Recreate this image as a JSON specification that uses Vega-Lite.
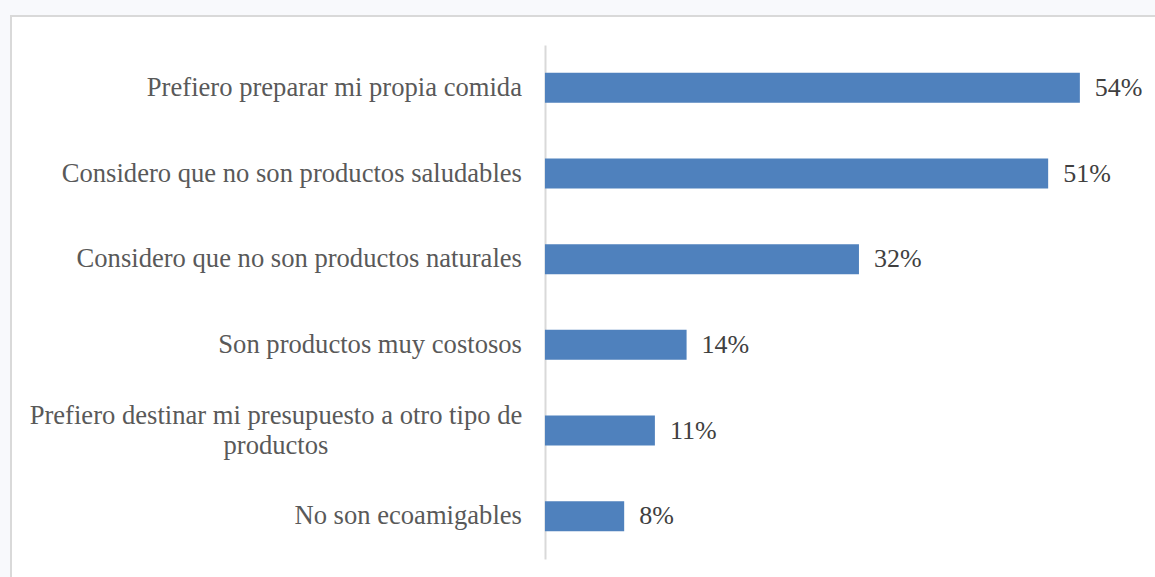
{
  "$schema": "https://vega.github.io/schema/vega-lite/v6.json",
  "width": 1160,
  "height": 570,
  "autosize": {"type": "none"},
  "padding": {"left": 11, "top": 16, "right": 0, "bottom": 0},
  "background": "#f8f9fc",
  "config": {"view": {"stroke": "#d9d9d9", "strokeWidth": 2, "fill": "white"}},
  "data": {
    "values": [
      {"cat": "Prefiero preparar mi propia comida", "pct": 54, "label": "54%", "multi": false},
      {"cat": "Considero que no son productos saludables", "pct": 50.8, "label": "51%", "multi": false},
      {"cat": "Considero que no son productos naturales", "pct": 31.7, "label": "32%", "multi": false},
      {"cat": "Son productos muy costosos", "pct": 14.3, "label": "14%", "multi": false},
      {"cat": "Prefiero destinar mi presupuesto a otro tipo de\nproductos", "pct": 11.1, "label": "11%", "multi": true},
      {"cat": "No son ecoamigables", "pct": 8, "label": "8%", "multi": false}
    ]
  },
  "encoding": {
    "y": {
      "field": "cat",
      "type": "nominal",
      "sort": null,
      "scale": {"range": [29, 543], "paddingInner": 0.65, "paddingOuter": 0.325},
      "axis": {"title": null, "labels": false, "ticks": false, "grid": false, "domainColor": "#d9d9d9", "domainWidth": 2, "offset": -534}
    }
  },
  "layer": [
    {
      "mark": {"type": "bar", "color": "#4f81bd"},
      "encoding": {
        "x": {"field": "pct", "type": "quantitative", "scale": {"domain": [-53.9, 63.2], "nice": false, "zero": false}, "axis": null}
      }
    },
    {
      "mark": {"type": "text", "align": "left", "baseline": "middle", "dx": 15, "font": "Liberation Serif", "fontSize": 26, "color": "#404040"},
      "encoding": {
        "x": {"field": "pct", "type": "quantitative"},
        "text": {"field": "label"}
      }
    },
    {
      "transform": [{"filter": "datum.multi == false"}],
      "mark": {"type": "text", "align": "right", "baseline": "middle", "dx": -23, "font": "Liberation Serif", "fontSize": 26.6, "color": "#595959"},
      "encoding": {
        "x": {"datum": 0},
        "text": {"field": "cat"}
      }
    },
    {
      "transform": [{"filter": "datum.multi == true"}],
      "mark": {"type": "text", "align": "center", "baseline": "middle", "dx": -269, "dy": -15, "lineBreak": "\n", "lineHeight": 30, "font": "Liberation Serif", "fontSize": 26.6, "color": "#595959"},
      "encoding": {
        "x": {"datum": 0},
        "text": {"field": "cat"}
      }
    }
  ]
}
